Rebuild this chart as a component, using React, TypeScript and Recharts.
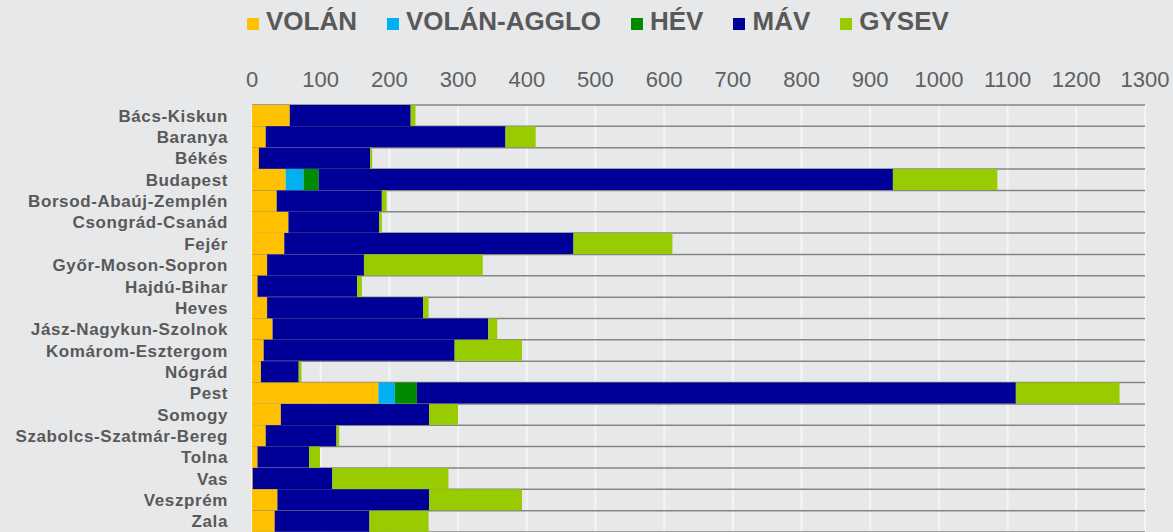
import React from 'react';
import { BarChart, Bar, XAxis, YAxis, CartesianGrid } from 'recharts';

const counties = [
  'Bács-Kiskun',
  'Baranya',
  'Békés',
  'Budapest',
  'Borsod-Abaúj-Zemplén',
  'Csongrád-Csanád',
  'Fejér',
  'Győr-Moson-Sopron',
  'Hajdú-Bihar',
  'Heves',
  'Jász-Nagykun-Szolnok',
  'Komárom-Esztergom',
  'Nógrád',
  'Pest',
  'Somogy',
  'Szabolcs-Szatmár-Bereg',
  'Tolna',
  'Vas',
  'Veszprém',
  'Zala',
];

const volan = [55, 20, 10, 49, 36, 53, 47, 22, 8, 22, 30, 17, 13, 184, 42, 20, 8, 1, 37, 33];
const volanAgglo = [0, 0, 0, 26, 0, 0, 0, 0, 0, 0, 0, 0, 0, 24, 0, 0, 0, 0, 0, 0];
const hev = [0, 0, 0, 22, 0, 0, 0, 0, 0, 0, 0, 0, 0, 32, 0, 0, 0, 0, 0, 0];
const mav = [176, 349, 162, 836, 153, 132, 421, 141, 145, 227, 314, 278, 55, 872, 216, 103, 75, 116, 221, 138];
const gysev = [7, 44, 3, 152, 7, 4, 144, 173, 7, 8, 13, 98, 4, 151, 42, 4, 16, 169, 135, 86];

const xTicks = [0, 100, 200, 300, 400, 500, 600, 700, 800, 900, 1000, 1100, 1200, 1300];

const series = [
  { key: 'volan', name: 'VOLÁN', color: '#ffc000' },
  { key: 'agglo', name: 'VOLÁN-AGGLO', color: '#00b0f0' },
  { key: 'hev', name: 'HÉV', color: '#008a00' },
  { key: 'mav', name: 'MÁV', color: '#000099' },
  { key: 'gysev', name: 'GYSEV', color: '#99cc00' },
];

const data = counties.map((name, i) => ({
  name,
  volan: volan[i],
  agglo: volanAgglo[i],
  hev: hev[i],
  mav: mav[i],
  gysev: gysev[i],
}));

const font = '"Liberation Sans", Arial, sans-serif';
const textColor = '#595959';

// legend drawn outside recharts so it doesn't push the plot down
function TopLegend() {
  return (
    <div
      style={{
        position: 'absolute',
        top: 6,
        left: 247,
        display: 'flex',
        alignItems: 'baseline',
        fontFamily: font,
      }}
    >
      {series.map((s) => (
        <div key={s.key} style={{ display: 'flex', alignItems: 'baseline', marginRight: 30 }}>
          <span
            style={{
              display: 'inline-block',
              width: 12,
              height: 12,
              background: s.color,
              marginRight: 7,
            }}
          />
          <span style={{ fontSize: 26, fontWeight: 'bold', color: textColor, lineHeight: '30px' }}>
            {s.name}
          </span>
        </div>
      ))}
    </div>
  );
}

export default function App() {
  const n = counties.length;
  return (
    <div
      style={{
        position: 'absolute',
        left: 0,
        top: 0,
        width: 1173,
        height: 532,
        background: '#e7e8e9',
        overflow: 'hidden',
      }}
    >
      <TopLegend />
      <BarChart
        width={1173}
        height={532}
        data={data}
        layout="vertical"
        margin={{ top: 55, right: 28, left: 0, bottom: 0 }}
        barCategoryGap={0}
        style={{ fontFamily: font }}
      >
        <CartesianGrid horizontal={false} stroke="#f5f5f5" strokeWidth={2} />
        <CartesianGrid
          vertical={false}
          stroke="#858585"
          strokeWidth={1.5}
          horizontalCoordinatesGenerator={({ offset }: any) =>
            Array.from({ length: n + 1 }, (_, i) => offset.top + (i * offset.height) / n)
          }
        />
        <XAxis
          type="number"
          orientation="top"
          domain={[0, 1300]}
          ticks={xTicks}
          interval={0}
          axisLine={false}
          tickLine={false}
          tickSize={0}
          tickMargin={18}
          height={50}
          tick={{ fontSize: 22, fill: '#606060' }}
        />
        <YAxis
          type="category"
          dataKey="name"
          width={252}
          interval={0}
          axisLine={false}
          tickLine={false}
          tickSize={0}
          tickMargin={24}
          tick={{ fontSize: 17, fontWeight: 'bold', fill: textColor, letterSpacing: 0.6 }}
        />
        {series.map((s) => (
          <Bar
            key={s.key}
            dataKey={s.key}
            name={s.name}
            stackId="a"
            fill={s.color}
            isAnimationActive={false}
          />
        ))}
      </BarChart>
    </div>
  );
}
